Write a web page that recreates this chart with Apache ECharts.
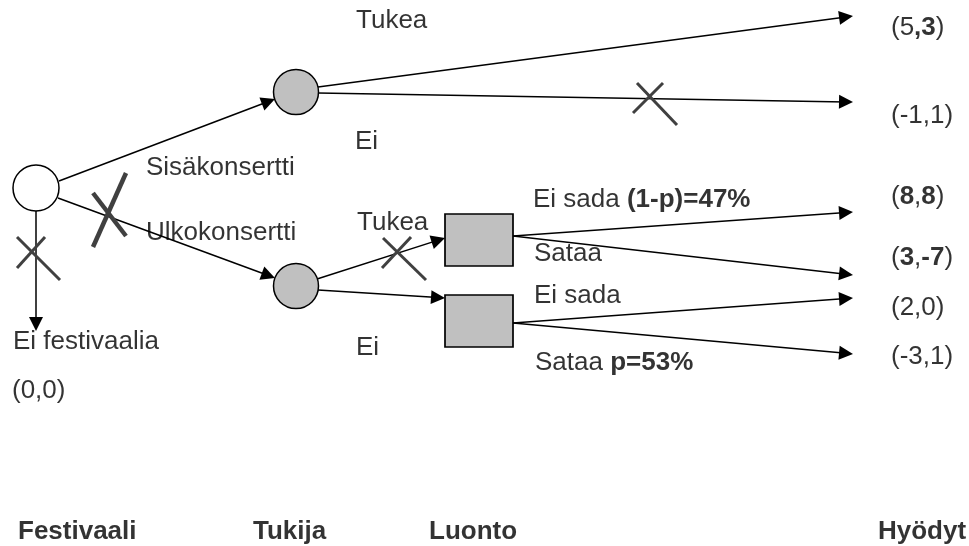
<!DOCTYPE html>
<html>
<head>
<meta charset="utf-8">
<script src="https://cdn.jsdelivr.net/npm/echarts@6.0.0/dist/echarts.min.js"></script>
<style>
  html, body { margin: 0; padding: 0; background: #fff; }
  #chart { width: 969px; height: 546px; }
</style>
</head>
<body>
<div id="chart"></div>
<script>
// päätöspuu: solmut, haarat, tekstit (pikselikoordinaatit, y alaspäin)
const rootNode = [[36, 188]];
const chanceNodes = [[296, 92], [296, 286]];
const natureNodes = [[479, 240], [479, 321]];

// [alku, kärki]
const branches = [
  [[59, 181], [275, 99]],
  [[58, 198], [275, 278]],
  [[36, 211], [36, 331]],
  [[318, 87], [853, 16]],
  [[318, 93], [853, 102]],
  [[317, 279], [445, 238]],
  [[318, 290], [445, 298]],
  [[513, 236], [853, 212]],
  [[513, 236], [853, 275]],
  [[513, 323], [853, 298]],
  [[513, 323], [853, 354]]
];

// karsitut haarat (ristit)
const crossesThin = [
  [[17, 237], [60, 280]], [[45, 237], [17, 268]],
  [[633, 113], [663, 83]], [[637, 83], [677, 125]],
  [[382, 268], [411, 237]], [[383, 238], [426, 280]]
];
const crossesThick = [
  [[126, 173], [93, 247]], [[93, 193], [126, 236]]
];

const branchLabels = [
  [356, 20, 'Tukea'],
  [355, 141, 'Ei'],
  [146, 167, 'Sisäkonsertti'],
  [146, 232, 'Ulkokonsertti'],
  [13, 341, 'Ei festivaalia'],
  [12, 390, '(0,0)'],
  [357, 222, 'Tukea'],
  [356, 347, 'Ei'],
  [533, 199, 'Ei sada {b|(1-p)=47%}'],
  [534, 253, 'Sataa'],
  [534, 295, 'Ei sada'],
  [535, 362, 'Sataa {b|p=53%}']
];

const payoffs = ['(5{b|,3})', '(-1,1)', '({b|8},{b|8})', '({b|3},{b|-7})', '(2,0)', '(-3,1)'];
const payoffY = [27, 115, 196, 257, 307, 356];
const payoffX = 891;

const stageLabels = ['Festivaali', 'Tukija', 'Luonto', 'Hyödyt'];
const stageX = [18, 253, 429, 878];
const stageY = 531;

const FONT = "'Liberation Sans', Arial, sans-serif";
const ARROW = 14;

// siirretään viivan loppupiste niin, että nuolen kärki osuu kärkipisteeseen
const arrowData = branches.map(([a, b]) => {
  const dx = b[0] - a[0], dy = b[1] - a[1];
  const len = Math.sqrt(dx * dx + dy * dy);
  const k = (ARROW / 2) / len;
  return { coords: [a, [b[0] - dx * k, b[1] - dy * k]] };
});

const textStyle = (bold) => ({
  show: true,
  position: 'right',
  distance: 0,
  color: '#000',
  fontFamily: FONT,
  fontSize: 26,
  fontWeight: bold ? 'bold' : 'normal',
  formatter: (p) => p.name,
  rich: { b: { fontFamily: FONT, fontSize: 26, fontWeight: 'bold', color: '#000' } }
});

const labelPoints = branchLabels.map(([x, y, t]) => ({ value: [x, y + 1], name: t }));
const payoffPoints = payoffs.map((t, i) => ({ value: [payoffX, payoffY[i] + 1], name: t }));
const stagePoints = stageLabels.map((t, i) => ({ value: [stageX[i], stageY + 1], name: t }));

const chart = echarts.init(document.getElementById('chart'));
chart.setOption({
  animation: false,
  backgroundColor: '#fff',
  grid: { left: 0, right: 0, top: 0, bottom: 0 },
  xAxis: { type: 'value', min: 0, max: 969, show: false },
  yAxis: { type: 'value', min: 0, max: 546, inverse: true, show: false },
  series: [
    {
      type: 'lines',
      coordinateSystem: 'cartesian2d',
      symbol: ['none', 'triangle'],
      symbolSize: ARROW,
      lineStyle: { color: '#000', width: 1.5, opacity: 1, curveness: 0 },
      silent: true,
      z: 2,
      data: arrowData
    },
    {
      type: 'scatter',
      symbol: 'circle',
      symbolSize: 46,
      itemStyle: { color: '#fff', borderColor: '#000', borderWidth: 1.5, opacity: 1 },
      silent: true,
      z: 3,
      data: rootNode
    },
    {
      type: 'scatter',
      symbol: 'circle',
      symbolSize: 45,
      itemStyle: { color: '#c0c0c0', borderColor: '#000', borderWidth: 1.5, opacity: 1 },
      silent: true,
      z: 3,
      data: chanceNodes
    },
    {
      type: 'scatter',
      symbol: 'rect',
      symbolSize: [68, 52],
      itemStyle: { color: '#c0c0c0', borderColor: '#000', borderWidth: 1.5, opacity: 1 },
      silent: true,
      z: 3,
      data: natureNodes
    },
    {
      type: 'lines',
      coordinateSystem: 'cartesian2d',
      symbol: 'none',
      lineStyle: { color: '#404040', width: 3, opacity: 1 },
      silent: true,
      z: 4,
      data: crossesThin.map((c) => ({ coords: c }))
    },
    {
      type: 'lines',
      coordinateSystem: 'cartesian2d',
      symbol: 'none',
      lineStyle: { color: '#404040', width: 4.5, opacity: 1 },
      silent: true,
      z: 4,
      data: crossesThick.map((c) => ({ coords: c }))
    },
    {
      type: 'scatter',
      symbolSize: 0,
      silent: true,
      z: 5,
      label: textStyle(false),
      data: labelPoints.concat(payoffPoints)
    },
    {
      type: 'scatter',
      symbolSize: 0,
      silent: true,
      z: 5,
      label: textStyle(true),
      data: stagePoints
    }
  ]
});
</script>
</body>
</html>
